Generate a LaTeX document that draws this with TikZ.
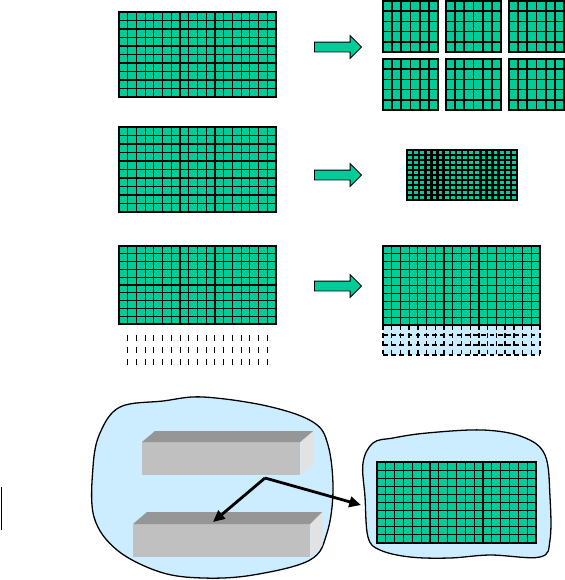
\documentclass[tikz,border=0pt]{standalone}
\usepackage{tikz}
\usetikzlibrary{arrows.meta,shapes.arrows,positioning,calc}
\definecolor{cellgreen}{RGB}{0,204,153}
\definecolor{regionblue}{RGB}{204,236,255}
\definecolor{barfront}{RGB}{192,192,192}
\definecolor{bartop}{RGB}{150,150,150}
\definecolor{barside}{RGB}{226,226,226}

% green cell grid: x0, y0, x1, y1, columns, rows, line width
\newcommand{\cellgrid}[7]{%
  \fill[cellgreen] (#1,#2) rectangle (#3,#4);
  \foreach \i in {1,...,#5}
    \draw[line width=#7] ({#1+(#3-#1)*(\i-1)/#5},#2) -- ({#1+(#3-#1)*(\i-1)/#5},#4);
  \foreach \j in {1,...,#6}
    \draw[line width=#7] (#1,{#2+(#4-#2)*(\j-1)/#6}) -- (#3,{#2+(#4-#2)*(\j-1)/#6});
  \draw[line width=1.4pt] (#1,#2) rectangle (#3,#4);
}

\begin{document}
\begin{tikzpicture}[
  x=0.03cm, y=-0.03cm,
  blockarr/.style={single arrow, draw=black, fill=cellgreen, line width=0.8pt,
                   minimum height=1.41cm, single arrow head extend=0.19cm,
                   inner xsep=0pt, inner ysep=0.135cm},
  barface/.style={rectangle, fill=barfront, inner sep=0pt, anchor=north west},
  region/.style={fill=regionblue, draw=black, line width=1.1pt},
  arr/.style={-{Triangle[length=10pt,width=9pt]}, line width=2.4pt},
]
\useasboundingbox (0,0) rectangle (565,580);

% Row 1 — whole grid split into six blocks
\cellgrid{119}{12}{276}{97}{18}{10}{1pt}
\node[blockarr] (split1) at (335.5,47) {};
\foreach \bx in {383,446,509}
  \foreach \by in {1,59}
    \cellgrid{\bx}{\by}{\bx+55}{\by+51}{6}{5}{1.5pt};

% Row 2 — grid shrunk
\cellgrid{119}{127}{276}{212}{18}{10}{1pt}
\node[blockarr] (shrink) at (335.5,175) {};
\cellgrid{407}{150}{517}{200}{18}{10}{2pt}

% Row 3 — grid with extra rows
\cellgrid{119}{246}{276}{324}{18}{10}{1pt}
\foreach \i in {1,...,17}
  \draw[line width=0.8pt, dash pattern=on 5.1pt off 5.1pt]
    ({119+157*\i/18},335) -- ({119+157*\i/18},366);
\node[blockarr] (extend) at (335.5,286) {};
\fill[regionblue] (383,325) rectangle (540,355);
\foreach \i in {0,...,18}
  \draw[line width=1.2pt, dash pattern=on 4pt off 3pt]
    ({383+157*\i/18},325) -- ({383+157*\i/18},355);
\foreach \y in {335,345,355}
  \draw[line width=1.2pt, dash pattern=on 4pt off 3pt] (383,\y) -- (540,\y);
\cellgrid{383}{246}{540}{325}{18}{10}{1pt}

% Bottom — memory regions
\draw[region] plot[smooth cycle, tension=0.6] coordinates {
  (120,407) (163,401) (203,397) (267,406) (313,422) (328,445) (333,490)
  (327,533) (310,560) (253,575) (203,578) (160,572) (117,550) (94,517)
  (93,467) (100,433)};
\draw[region] plot[smooth cycle, tension=0.6] coordinates {
  (373,443) (393,438) (427,433) (483,430) (523,437) (545,455) (550,497)
  (550,540) (540,557) (490,555) (450,558) (410,557) (380,550) (368,537)
  (365,497) (363,463)};
\cellgrid{377}{462}{536}{543}{18}{10}{1pt}

% upper bar
\node[barface, minimum width=4.74cm, minimum height=0.99cm] (upbar) at (142,442) {};
\fill[bartop] (upbar.north west) -- (upbar.north east) -- ++(13,-11)
  -- ($(upbar.north west)+(13,-11)$) -- cycle;
\fill[barside] (upbar.north east) -- ++(13,-11)
  -- ($(upbar.south east)+(13,-12)$) -- (upbar.south east) -- cycle;

% lower bar
\node[barface, minimum width=5.31cm, minimum height=0.99cm] (lowbar) at (133,524) {};
\fill[bartop] (lowbar.north west) -- (lowbar.north east) -- ++(12,-12)
  -- ($(lowbar.north west)+(14,-12)$) -- cycle;
\fill[barside] (lowbar.north east) -- ++(12,-12)
  -- ($(lowbar.south east)+(12,-12)$) -- (lowbar.south east) -- cycle;

% Arrows
\coordinate (fork)  at (265,478);
\coordinate (drop)  at (213,522);
\coordinate (blobin) at (361,505);
\draw[arr] (fork) -- (drop);
\draw[arr] (fork) -- (blobin);

\draw[line width=1.6pt] (1.5,487) -- (1.5,530);
\end{tikzpicture}
\end{document}
